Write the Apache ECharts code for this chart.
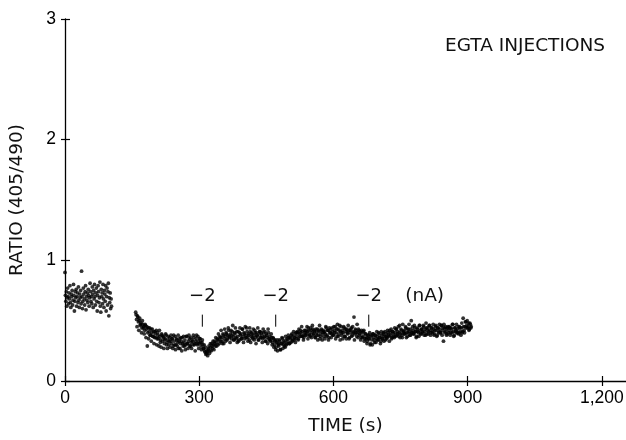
<!DOCTYPE html>
<html><head><meta charset="utf-8">
<script src="https://cdn.jsdelivr.net/npm/echarts@6/dist/echarts.min.js"></script>
<style>html,body{margin:0;padding:0;background:#fff}#c{width:626px;height:440px}</style>
</head><body><div id="c"></div>
<script>
const xTicks = [0, 300, 600, 900, 1200];
const yTicks = [0, 1, 2, 3];
const xTitle = 'TIME (s)';
const yTitle = 'RATIO (405/490)';
const panelTitle = 'EGTA INJECTIONS';

// Segment A: before the gap (time start / sampling step in s)
const startA = 0, stepA = 1;
const ratioA = [
0.90,0.71,0.66,0.74,0.62,0.69,0.77,0.70,0.64,0.73,
0.68,0.79,0.65,0.61,0.72,0.70,0.75,0.63,0.67,0.80,
0.71,0.58,0.66,0.74,0.69,0.76,0.62,0.70,0.73,0.65,
0.78,0.67,0.61,0.72,0.69,0.75,0.64,0.91,0.70,0.60,
0.66,0.77,0.72,0.68,0.63,0.74,0.79,0.59,0.70,0.67,
0.73,0.65,0.76,0.71,0.62,0.69,0.81,0.74,0.66,0.70,
0.64,0.78,0.72,0.61,0.75,0.68,0.80,0.70,0.63,0.73,
0.77,0.66,0.58,0.71,0.79,0.74,0.65,0.69,0.82,0.62,
0.57,0.76,0.70,0.73,0.64,0.80,0.68,0.61,0.75,0.72,
0.66,0.79,0.58,0.70,0.77,0.63,0.74,0.81,0.54,0.69,
0.65,0.73,0.60,0.68,0.62
];

// Segment B: after the gap, even samples
const startB = 158, stepB = 2;
const ratioB = [
0.57,0.51,0.54,0.49,0.50,0.46,0.48,0.44,0.47,0.45,
0.42,0.46,0.43,0.29,0.44,0.41,0.38,0.43,0.40,0.37,
0.41,0.36,0.39,0.42,0.35,0.38,0.29,0.37,0.34,0.39,
0.33,0.36,0.31,0.35,0.38,0.32,0.34,0.30,0.36,0.33,
0.31,0.35,0.29,0.33,0.37,0.30,0.34,0.32,0.27,0.35,
0.31,0.33,0.36,0.29,0.32,0.34,0.30,0.37,0.31,0.33,
0.35,0.29,0.32,0.34,0.30,0.36,0.31,0.33,0.38,0.30,
0.33,0.31,0.35,0.29,0.32,0.30,0.27,0.25,0.28,0.23,
0.24,0.26,0.29,0.25,0.28,0.31,0.27,0.30,0.33,0.29,
0.32,0.35,0.30,0.34,0.37,0.33,0.36,0.31,0.38,0.35,
0.37,0.40,0.34,0.38,0.42,0.36,0.39,0.35,0.41,0.37,
0.34,0.39,0.36,0.41,0.37,0.33,0.40,0.38,0.35,0.43,
0.37,0.40,0.35,0.38,0.44,0.36,0.39,0.34,0.41,0.37,
0.39,0.35,0.38,0.42,0.36,0.40,0.37,0.34,0.39,0.41,
0.36,0.38,0.35,0.40,0.37,0.33,0.39,0.36,0.43,0.35,
0.37,0.34,0.36,0.32,0.35,0.30,0.33,0.28,0.34,0.31,
0.29,0.33,0.26,0.31,0.35,0.30,0.32,0.28,0.34,0.31,
0.33,0.36,0.31,0.35,0.38,0.33,0.37,0.34,0.39,0.35,
0.37,0.40,0.35,0.39,0.42,0.37,0.41,0.38,0.36,0.40,
0.42,0.38,0.41,0.44,0.39,0.37,0.42,0.40,0.43,0.38,
0.41,0.36,0.40,0.43,0.38,0.41,0.35,0.39,0.42,0.40,
0.37,0.41,0.39,0.44,0.38,0.42,0.36,0.40,0.43,0.39,
0.41,0.38,0.42,0.45,0.40,0.37,0.43,0.39,0.46,0.41,
0.38,0.42,0.40,0.44,0.37,0.41,0.43,0.39,0.42,0.36,
0.40,0.44,0.38,0.41,0.53,0.39,0.42,0.37,0.40,0.43,
0.38,0.41,0.36,0.40,0.37,0.42,0.35,0.39,0.36,0.33,
0.38,0.35,0.30,0.37,0.34,0.39,0.36,0.32,0.38,0.35,
0.37,0.34,0.39,0.36,0.33,0.38,0.35,0.40,0.37,0.34,
0.39,0.36,0.40,0.37,0.42,0.38,0.35,0.41,0.39,0.36,
0.40,0.43,0.38,0.41,0.37,0.46,0.39,0.42,0.36,0.40,
0.42,0.39,0.44,0.40,0.37,0.43,0.41,0.38,0.50,0.40,
0.42,0.39,0.44,0.41,0.37,0.43,0.40,0.46,0.42,0.39,
0.43,0.40,0.45,0.41,0.38,0.44,0.42,0.39,0.46,0.42,
0.40,0.44,0.41,0.43,0.39,0.45,0.42,0.38,0.44,0.41,
0.43,0.40,0.46,0.42,0.33,0.44,0.41,0.43,0.39,0.45,
0.42,0.44,0.40,0.43,0.47,0.41,0.38,0.44,0.42,0.40,
0.43,0.39,0.45,0.41,0.44,0.40,0.52,0.42,0.45,0.49,
0.46,0.44,0.48,0.43,0.47,0.45
];

// Segment B: after the gap, odd samples
const startB2 = 159, stepB2 = 2;
const ratioB2 = [
0.55,0.45,0.53,0.42,0.52,0.47,0.40,0.50,0.44,0.39,
0.47,0.36,0.45,0.40,0.35,0.44,0.38,0.33,0.43,0.37,
0.31,0.41,0.36,0.30,0.40,0.35,0.42,0.32,0.28,0.38,
0.37,0.27,0.34,0.39,0.30,0.27,0.37,0.33,0.28,0.38,
0.35,0.27,0.38,0.30,0.26,0.35,0.29,0.38,0.33,0.27,
0.36,0.25,0.31,0.37,0.29,0.26,0.37,0.31,0.27,0.38,
0.29,0.36,0.27,0.33,0.38,0.30,0.25,0.35,0.31,0.37,
0.27,0.35,0.32,0.26,0.34,0.27,0.30,0.24,0.22,0.25,
0.21,0.27,0.23,0.31,0.25,0.29,0.33,0.26,0.31,0.36,
0.29,0.34,0.39,0.31,0.36,0.42,0.33,0.39,0.31,0.43,
0.33,0.39,0.35,0.44,0.37,0.32,0.42,0.38,0.46,0.34,
0.40,0.44,0.35,0.32,0.41,0.34,0.44,0.39,0.35,0.43,
0.32,0.39,0.45,0.36,0.41,0.33,0.38,0.44,0.32,0.40,
0.36,0.43,0.34,0.40,0.31,0.38,0.44,0.34,0.41,0.36,
0.40,0.32,0.43,0.36,0.41,0.33,0.38,0.31,0.40,0.34,
0.33,0.39,0.30,0.36,0.28,0.34,0.26,0.32,0.25,0.30,
0.34,0.26,0.31,0.36,0.27,0.33,0.29,0.37,0.30,0.35,
0.38,0.31,0.36,0.32,0.39,0.34,0.41,0.36,0.32,0.40,
0.41,0.34,0.43,0.37,0.40,0.45,0.37,0.34,0.42,0.38,
0.40,0.45,0.35,0.42,0.38,0.44,0.36,0.46,0.39,0.42,
0.36,0.43,0.38,0.34,0.42,0.46,0.37,0.43,0.34,0.42,
0.40,0.35,0.45,0.37,0.42,0.34,0.44,0.40,0.36,0.44,
0.38,0.45,0.40,0.35,0.43,0.47,0.37,0.42,0.34,0.45,
0.40,0.35,0.45,0.37,0.43,0.35,0.40,0.46,0.35,0.42,
0.43,0.37,0.45,0.40,0.34,0.43,0.40,0.47,0.36,0.42,
0.39,0.34,0.42,0.36,0.41,0.33,0.39,0.35,0.31,0.38,
0.35,0.40,0.31,0.38,0.30,0.39,0.34,0.38,0.32,0.41,
0.34,0.40,0.36,0.31,0.41,0.35,0.39,0.33,0.41,0.37,
0.35,0.42,0.38,0.33,0.40,0.43,0.36,0.41,0.37,0.44,
0.37,0.43,0.39,0.45,0.40,0.36,0.43,0.38,0.47,0.41,
0.39,0.45,0.36,0.43,0.40,0.47,0.38,0.43,0.40,0.45,
0.39,0.46,0.41,0.36,0.44,0.41,0.37,0.46,0.39,0.43,
0.41,0.46,0.38,0.43,0.48,0.39,0.44,0.41,0.46,0.38,
0.44,0.40,0.47,0.38,0.42,0.46,0.37,0.44,0.40,0.47,
0.40,0.46,0.38,0.44,0.47,0.40,0.45,0.38,0.44,0.40,
0.45,0.38,0.44,0.40,0.47,0.37,0.44,0.41,0.47,0.40,
0.45,0.40,0.44,0.38,0.48,0.41,0.45,0.40,0.49,0.44,
0.50,0.45,0.42,0.48,0.44
];

// Injection annotations
const injectTimes = [307, 471, 679];
const injectLabels = ['\u22122', '\u22122', '\u22122'];
const injectTop = 0.55, injectBottom = 0.45, injectLabelY = 0.70;
const unitLabel = '(nA)';
const unitPos = [804, 0.70];

const TICKFONT = '"Liberation Sans", Arial, sans-serif';
const FONT = '"DejaVu Sans", sans-serif';
const dataA = ratioA.map((v, i) => [startA + i * stepA, v]);
const dataB = ratioB.map((v, i) => [startB + i * stepB, v])
  .concat(ratioB2.map((v, i) => [startB2 + i * stepB2, v]));
const fmt = v => v.toLocaleString('en-US');

const chart = echarts.init(document.getElementById('c'), null, {renderer: 'canvas'});
const tickTxt = {color: '#000', fontSize: 17.5, fontFamily: TICKFONT};
const nameTxt = {color: '#111', fontSize: 18.5, fontFamily: FONT};
chart.setOption({
  animation: false,
  backgroundColor: '#fff',
  grid: {left: 65, right: 0, top: 19, bottom: 59, containLabel: false, outerBoundsMode: 'none'},
  xAxis: [{
    type: 'value', min: 0, max: 1254, position: 'bottom',
    splitLine: {show: false},
    axisLine: {show: true, onZero: false, lineStyle: {color: '#000', width: 1.3}},
    axisTick: {show: true, length: 5, customValues: xTicks, lineStyle: {color: '#000', width: 1.2}},
    axisLabel: Object.assign({margin: 8, customValues: xTicks, formatter: fmt}, tickTxt),
    name: xTitle, nameLocation: 'middle', nameGap: 36,
    nameTextStyle: nameTxt
  }, {
    type: 'value', min: 0, max: 1254, position: 'bottom',
    splitLine: {show: false}, axisLine: {show: false},
    axisTick: {show: true, inside: true, length: 5, customValues: xTicks, lineStyle: {color: '#000', width: 1.2}},
    axisLabel: {show: false}
  }],
  yAxis: [{
    type: 'value', min: 0, max: 3, interval: 1, position: 'left',
    splitLine: {show: false},
    axisLine: {show: true, onZero: false, lineStyle: {color: '#000', width: 1.3}},
    axisTick: {show: true, length: 4, customValues: yTicks, lineStyle: {color: '#000', width: 1.2}},
    axisLabel: Object.assign({margin: 9, customValues: yTicks}, tickTxt),
    name: yTitle, nameLocation: 'middle', nameGap: 38,
    nameTextStyle: nameTxt
  }, {
    type: 'value', min: 0, max: 3, interval: 1, position: 'left',
    splitLine: {show: false}, axisLine: {show: false},
    axisTick: {show: true, inside: true, length: 5, customValues: yTicks, lineStyle: {color: '#000', width: 1.2}},
    axisLabel: {show: false}
  }],
  series: [{
    type: 'scatter', name: 'before', data: dataA, symbolSize: 3.8,
    itemStyle: {color: '#000'}, silent: true
  }, {
    type: 'scatter', name: 'after', data: dataB, symbolSize: 3.8,
    itemStyle: {color: '#000'}, silent: true
  }, {
    type: 'custom', name: 'injections', silent: true,
    data: injectTimes.map(t => [t, injectTop, injectBottom, injectLabelY]),
    renderItem: function (params, api) {
      const t = api.value(0);
      const p1 = api.coord([t, api.value(1)]);
      const p2 = api.coord([t, api.value(2)]);
      const p3 = api.coord([t, api.value(3)]);
      return {type: 'group', children: [
        {type: 'line', shape: {x1: p1[0], y1: p1[1], x2: p2[0], y2: p2[1]}, style: {stroke: '#000', lineWidth: 1}},
        {type: 'text', style: {text: injectLabels[params.dataIndex], x: p3[0], y: p3[1], align: 'center', verticalAlign: 'middle', fontSize: 18, fontFamily: FONT, fill: '#111'}}
      ]};
    }
  }, {
    type: 'custom', name: 'unit', silent: true,
    data: [unitPos],
    renderItem: function (params, api) {
      const p = api.coord([api.value(0), api.value(1)]);
      return {type: 'text', style: {text: unitLabel, x: p[0], y: p[1], align: 'center', verticalAlign: 'middle', fontSize: 18.5, fontFamily: FONT, fill: '#111'}};
    }
  }],
  graphic: [{
    type: 'text', left: 445, top: 37,
    style: {text: panelTitle, fontSize: 18.5, fontFamily: FONT, fill: '#111'}
  }]
});
</script></body></html>
